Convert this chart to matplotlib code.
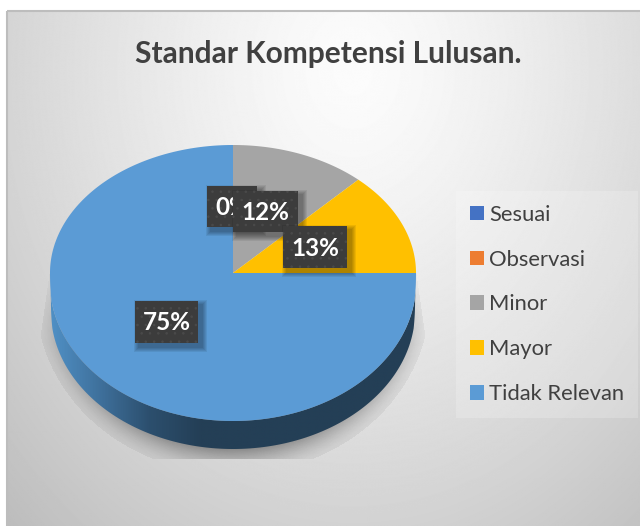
import numpy as np
import matplotlib
matplotlib.use("Agg")
import matplotlib.pyplot as plt
from matplotlib.patches import Polygon, Rectangle
from matplotlib.colors import LinearSegmentedColormap

title = "Standar Kompetensi Lulusan."
categories = ["Sesuai", "Observasi", "Minor", "Mayor", "Tidak Relevan"]
values = [0, 0, 12, 13, 75]
colors = ["#4472C4", "#ED7D31", "#A5A5A5", "#FFC000", "#5B9BD5"]
labels = ["0%", "12%", "13%", "75%"]

plt.rcParams["font.family"] = ["Lato", "DejaVu Sans"]
W, H = 640, 526
fig = plt.figure(figsize=(W / 100, H / 100), dpi=100)
ax = fig.add_axes([0, 0, 1, 1])
ax.axis("off")
fig.patch.set_facecolor("white")

# chart-area background
X, Y = np.meshgrid(np.arange(W) + .5, np.arange(H) + .5)
t = np.hypot((X - 350) / 340, (Y - 60) / 430)
bg = (252 - 38 * t ** 1.3) / 255
ax.imshow(bg, extent=(7, W, H, 11), cmap="gray", vmin=0, vmax=1, zorder=0,
          interpolation="bilinear", aspect="auto")
ax.add_patch(Rectangle((7, 11), W, H, fc="none", ec="#bdbdbd", lw=1.5, zorder=1))

# pie geometry (perspective: the front half is taller than the back half)
cx, cy, rx, ry_top, ry_bot, bulge, depth = 233, 273, 183, 128, 138, 10, 28


def rim_xy(theta):
    s, c = np.sin(theta), np.cos(theta)
    front = cy - ry_bot * c + bulge * np.minimum(1, -c * 8)
    return cx + rx * s, np.where(c >= 0, cy - ry_top * c, front)


# shadow
d = np.hypot((X - cx) / 197, (Y - 298) / 176)
alpha = 0.05 + 0.30 * np.clip((1 - d) / 0.14, 0, 1) ** 1.5
alpha *= np.clip((Y - cy) / 70, 0.2, 1)
alpha[d > 1] = 0
alpha[(np.abs(X - cx) > rx + 12 * (Y - 270) / 85) | (Y < cy) | (Y > 459)] = 0
rgba = np.zeros((H, W, 4))
rgba[..., 3] = alpha
ax.imshow(rgba, extent=(0, W, H, 0), zorder=2, interpolation="bilinear", aspect="auto")

# pie side with a left-to-right shade
side_cmap = LinearSegmentedColormap.from_list(
    "side", [(0, "#5090c5"), (.14, "#3e6f9a"), (.27, "#2c4f6e"), (.41, "#243f56"), (1, "#243f56")])
xs = np.linspace(cx - rx, cx + rx, 400)[None, :]
th = np.linspace(np.pi / 2, 3 * np.pi / 2, 300)
sx, sy = rim_xy(th)
side_poly = Polygon(np.r_[np.c_[sx, sy], np.c_[cx + (sx[::-1] - cx) * 0.995, sy[::-1] + depth]],
                    closed=True, fc="none", ec="none", transform=ax.transData)
ax.add_patch(side_poly)
im = ax.imshow(xs, extent=(cx - rx, cx + rx, cy + ry_bot + bulge + depth, cy), cmap=side_cmap,
               zorder=3, aspect="auto", interpolation="bilinear")
im.set_clip_path(side_poly)

# slices clockwise from twelve o'clock
fractions = np.array(values, dtype=float) / sum(values)
edges = np.r_[0, np.cumsum(fractions)] * 2 * np.pi
wedges = []
for a, b, col in zip(edges[:-1], edges[1:], colors):
    n = max(2, int((b - a) * 80))
    px, py = rim_xy(np.linspace(a, b, n))
    w = Polygon(np.r_[[[cx, cy]], np.c_[px, py]], closed=True, fc=col, ec="none", zorder=4)
    ax.add_patch(w)
    wedges.append(w)

# data labels
label_boxes = [(207, 186, 50, 41), (233, 191, 65, 41), (283, 226, 64, 42), (135, 301, 63, 42)]
plt.rcParams["hatch.linewidth"] = 0.6
plt.rcParams["hatch.color"] = "#505050"
for k, (text, (x0, y0, bw, bh)) in enumerate(zip(labels, label_boxes)):
    z = 5 + k * 0.1
    for i in range(5):
        g = 5 - i
        ax.add_patch(Rectangle((x0 + 4 - g, y0 + 4 - g), bw + 2 * g, bh + 2 * g,
                               fc="black", ec="none", alpha=0.07, zorder=z))
    ax.add_patch(Rectangle((x0, y0), bw, bh, fc="#3c3c3c", ec="#4a4a4a", lw=0, hatch="..", zorder=z + .01))
    t_ = ax.text(x0 + bw / 2, y0 + bh / 2 + 1, text, color="white", fontsize=17.5, fontweight="bold",
                 ha="center", va="center", zorder=z + .02)
    t_.set_clip_path(Rectangle((x0, y0), bw, bh, transform=ax.transData))

# title
ax.text(328.5, 54, title, color="#404040", fontsize=21.5, fontweight="bold",
        ha="center", va="center", zorder=6)

ax.set_xlim(0, W)
ax.set_ylim(H, 0)

# legend
leg = ax.legend(wedges, categories, loc="upper left",
                bbox_to_anchor=(456 / W, 1 - 191 / H), bbox_transform=ax.transAxes,
                frameon=True, facecolor="white", framealpha=0.2, edgecolor="none", fancybox=False,
                fontsize=15.8, labelcolor="#404040", handlelength=0.64, handleheight=0.64,
                handletextpad=0.23, labelspacing=1.13, borderpad=0.63, borderaxespad=0)
leg.set_zorder(7)

fig.savefig("out.png", dpi=100)
